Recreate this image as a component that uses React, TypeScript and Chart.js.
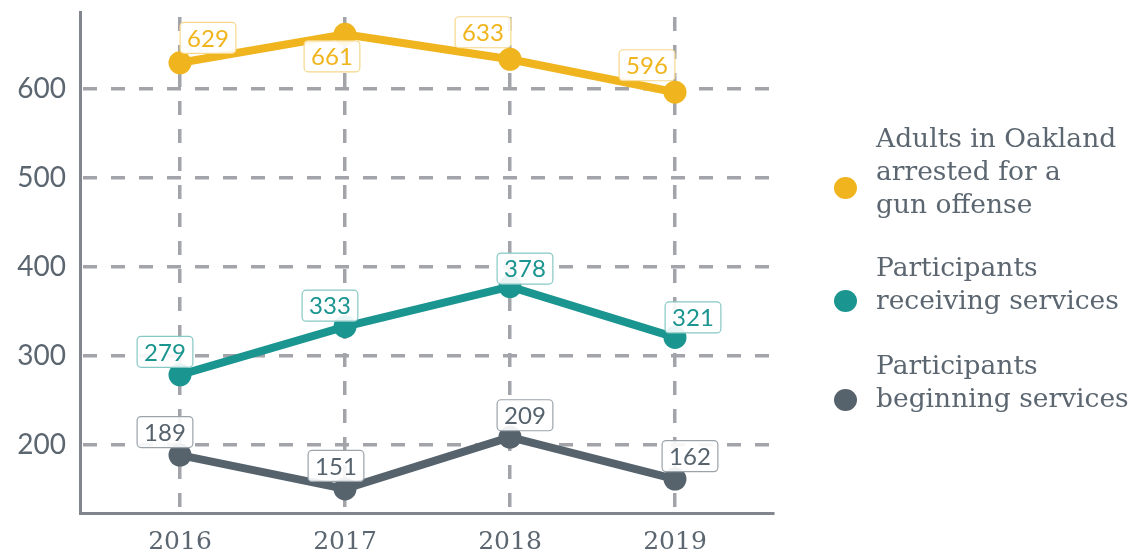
import React, { useEffect, useRef } from "react";
import { Chart, registerables } from "chart.js";

Chart.register(...registerables);

const years = [2016, 2017, 2018, 2019];
const arrested = [629, 661, 633, 596];
const receiving = [279, 333, 378, 321];
const beginning = [189, 151, 209, 162];
const yTickValues = [200, 300, 400, 500, 600];
const seriesNames = [
  ["Adults in Oakland", "arrested for a", "gun offense"],
  ["Participants", "receiving services"],
  ["Participants", "beginning services"],
];

// label box offsets (px) relative to each point
const labelOffsets = [
  [[28, -25], [-13, 22], [-27, -27], [-28, -27]],
  [[-15, -23], [-15, -21], [15, -18], [18, -20]],
  [[-15, -23], [-9, -23], [15, -22], [15, -23]],
];

const COLORS = ["#F0B51E", "#1A9590", "#56636D"];
const LABEL_BORDERS = ["#F6D88A", "#86C8C4", "#9AA3AA"];
const TEXT = "#5B6670";
const GRID = "#A2A4AA";
const AXIS = "#80858E";

const labelPlugin = {
  id: "boxLabels",
  afterDatasetsDraw(chart: any) {
    const ctx = chart.ctx;
    ctx.save();
    ctx.font = "24px Lato";
    ctx.textAlign = "center";
    ctx.textBaseline = "middle";
    chart.data.datasets.forEach((ds: any, di: number) => {
      const meta = chart.getDatasetMeta(di);
      meta.data.forEach((pt: any, i: number) => {
        const txt = String(ds.data[i].y);
        const [dx, dy] = labelOffsets[di][i];
        const cx = pt.x + dx;
        const cy = pt.y + dy;
        const w = ctx.measureText(txt).width + 14;
        const h = 31;
        ctx.beginPath();
        ctx.roundRect(cx - w / 2, cy - h / 2, w, h, 4);
        ctx.fillStyle = "rgba(255,255,255,0.9)";
        ctx.fill();
        ctx.lineWidth = 1.2;
        ctx.strokeStyle = LABEL_BORDERS[di];
        ctx.stroke();
        ctx.fillStyle = COLORS[di];
        ctx.fillText(txt, cx, cy + 1);
      });
    });
    ctx.restore();
  },
};

export default function App() {
  const ref = useRef<HTMLCanvasElement>(null);
  useEffect(() => {
    const mk = (vals: number[]) => vals.map((v, i) => ({ x: years[i], y: v }));
    const all = [arrested, receiving, beginning];
    const chart = new Chart(ref.current!, {
      type: "line",
      data: {
        datasets: all.map((vals, i) => ({
          label: seriesNames[i].join(" "),
          data: mk(vals),
          borderColor: COLORS[i],
          backgroundColor: COLORS[i],
          pointBackgroundColor: COLORS[i],
          pointBorderWidth: 0,
          pointRadius: 11.5,
          borderWidth: 8,
          tension: 0,
        })),
      },
      options: {
        responsive: false,
        animation: false,
        layout: { padding: { left: 0, right: 374, top: 12, bottom: 0 } },
        plugins: { legend: { display: false }, tooltip: { enabled: false } },
        scales: {
          x: {
            type: "linear",
            min: 2015.394,
            max: 2019.594,
            afterBuildTicks: (s: any) => {
              s.ticks = years.map((v) => ({ value: v }));
            },
            afterFit: (s: any) => {
              s.height = 41;
              s.paddingLeft = 0;
              s.paddingRight = 0;
            },
            ticks: {
              callback: (v: any) => String(v),
              color: TEXT,
              font: { family: "DejaVu Serif", size: 25 },
              padding: 14,
              autoSkip: false,
              maxRotation: 0,
            },
            grid: { color: GRID, lineWidth: 3.5, drawTicks: false },
            border: { display: true, color: AXIS, width: 3, dash: [14, 14], dashOffset: 23 },
          },
          y: {
            min: 124,
            max: 686,
            afterBuildTicks: (s: any) => {
              s.ticks = yTickValues.map((v) => ({ value: v }));
            },
            afterFit: (s: any) => {
              s.width = 80;
              s.paddingTop = 0;
              s.paddingBottom = 0;
            },
            ticks: {
              color: TEXT,
              font: { family: "Lato", size: 28 },
              padding: 14,
            },
            grid: { color: GRID, lineWidth: 3.5, drawTicks: false },
            border: { display: true, color: AXIS, width: 3, dash: [14, 14], dashOffset: 27 },
          },
        },
      },
      plugins: [labelPlugin],
    });
    return () => chart.destroy();
  }, []);

  const legendTops = [121, 250, 348];
  const markerCenters = [188, 301, 400];

  return (
    <div style={{ position: "fixed", left: 0, top: 0, width: 1147, height: 554, background: "#fff" }}>
      <canvas ref={ref} width={1147} height={554} style={{ position: "absolute", left: 0, top: 0 }} />
      {seriesNames.map((lines, i) => (
        <React.Fragment key={i}>
          <div
            style={{
              position: "absolute",
              left: 834,
              top: markerCenters[i] - 11,
              width: 23,
              height: 22,
              borderRadius: "50%",
              background: COLORS[i],
            }}
          />
          <div
            style={{
              position: "absolute",
              left: 876,
              top: legendTops[i],
              fontFamily: "DejaVu Serif",
              fontSize: 26.5,
              lineHeight: "33px",
              color: TEXT,
              whiteSpace: "nowrap",
            }}
          >
            {lines.map((l, j) => (
              <div key={j}>{l}</div>
            ))}
          </div>
        </React.Fragment>
      ))}
    </div>
  );
}
